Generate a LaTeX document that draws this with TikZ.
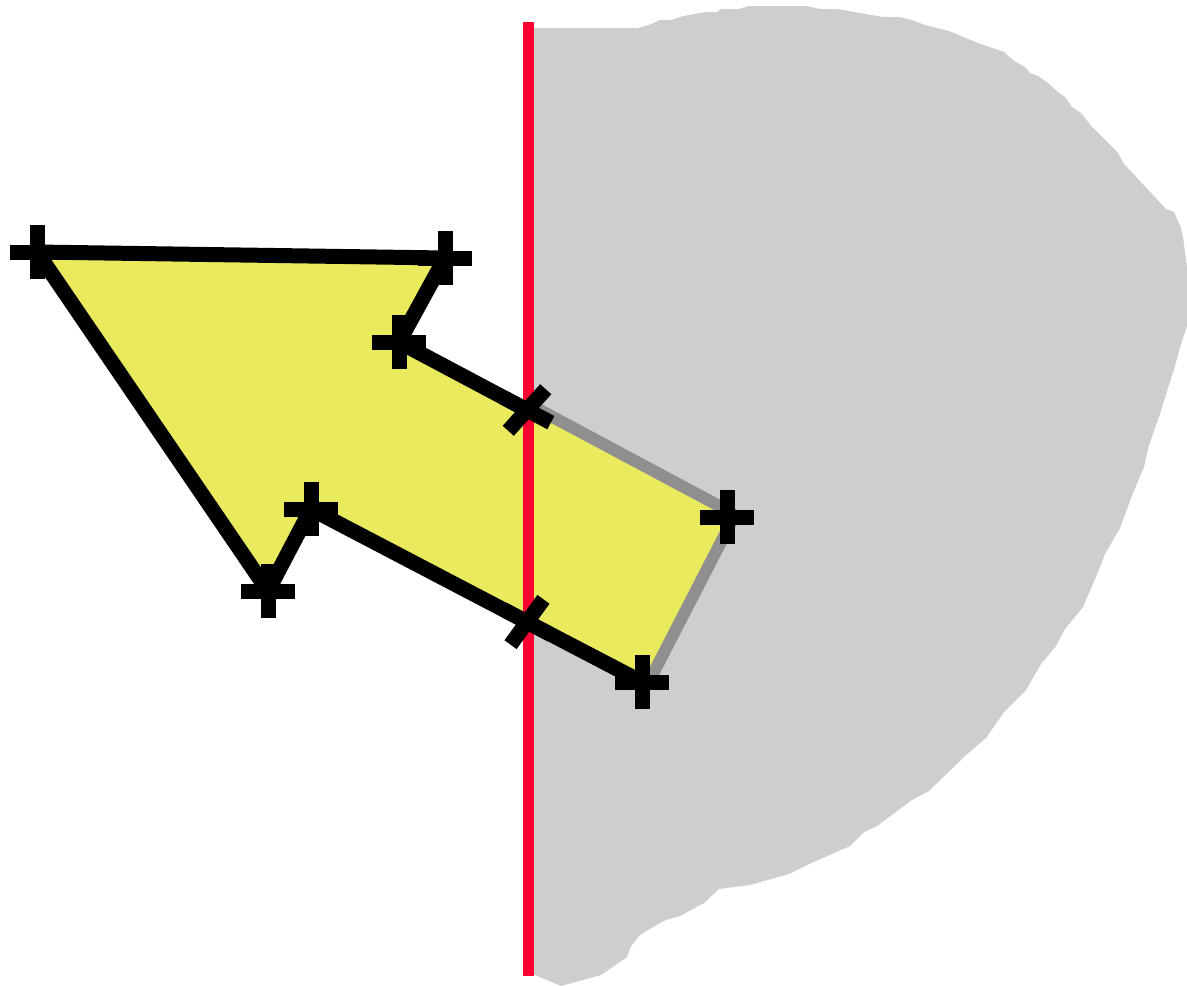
\documentclass[tikz,border=0pt]{standalone}
\usepackage{xcolor}
\usetikzlibrary{calc}
\definecolor{Sand}{HTML}{EAEA5E}
\definecolor{Fog}{HTML}{CECECE}
\definecolor{Ash}{HTML}{8F8F8F}
\definecolor{Signal}{HTML}{FF0030}

\begin{document}
\begin{tikzpicture}[x=1pt,y=-1pt,
    edge/.style={draw=black,line width=15pt,line cap=round,line join=round},
    hidden/.style={draw=Ash,line width=24pt,line join=round},
    crossbar/.style={draw=black,line width=15pt,line cap=butt}]
  \useasboundingbox (0,0) rectangle (1187,986);
  % clipped region
  \fill[Fog] (528,28) -- (638,28) -- (649,25) -- (660,20) -- (671,20) -- (680,17)
    -- (688,15) -- (706,12) -- (717,12) -- (721,9) -- (739,9) -- (748,6) -- (807,6)
    -- (820,9) -- (837,9) -- (883,17) -- (899,17) -- (912,20) -- (925,25) -- (949,31)
    -- (978,43) -- (1004,52) -- (1013,60) -- (1026,68) -- (1030,73) -- (1038,76)
    -- (1048,83) -- (1059,93) -- (1065,97) -- (1072,107) -- (1081,113) -- (1092,127)
    -- (1118,153) -- (1124,164) -- (1166,209) -- (1174,212) -- (1181,228) -- (1183,237)
    -- (1187,267) -- (1187,326) -- (1181,344) -- (1175,366) -- (1168,388) -- (1160,414)
    -- (1149,445) -- (1144,467) -- (1133,493) -- (1120,528) -- (1105,554) -- (1098,572)
    -- (1083,607) -- (1065,629) -- (1056,646) -- (1041,664) -- (1026,690) -- (1004,712)
    -- (986,738) -- (965,756) -- (929,791) -- (912,800) -- (877,826) -- (864,832)
    -- (850,846) -- (807,865) -- (789,874) -- (750,885) -- (719,889) -- (704,903)
    -- (680,916) -- (666,920) -- (653,927) -- (640,935) -- (631,946) -- (627,957)
    -- (614,966) -- (601,975) -- (579,981) -- (561,986) -- (535,975) -- (528,972) -- cycle;
  % polygon corners
  \coordinate (A) at (37,252);
  \coordinate (B) at (445,258);
  \coordinate (C) at (399,342);
  \coordinate (D) at (527,410);
  \coordinate (E) at (727,517);
  \coordinate (F) at (642,682);
  \coordinate (G) at (527,622);
  \coordinate (H) at (311,509);
  \coordinate (I) at (268,591);
  \draw[hidden] (D) -- (E) -- (F);
  \fill[Sand] (A) -- (B) -- (C) -- (E) -- (F) -- (H) -- (I) -- cycle;
  % clip line
  \coordinate (top) at (528,22);
  \coordinate (bot) at (528,976);
  \draw[Signal,line width=11pt] (top) -- (bot);
  \draw[edge] (D) -- (C) -- (B) -- (A) -- (I) -- (H) -- (G) -- (F);
  % vertex markers
  \foreach \p in {A,B,C,E,F,H,I}{
    \draw[crossbar] ([xshift=-27pt]\p) -- ([xshift=27pt]\p);
    \draw[crossbar] ([yshift=-27pt]\p) -- ([yshift=27pt]\p);
  }
  \foreach \p/\a in {D/-48,G/-54}{
    \draw[crossbar] ($(\p)+(28:27)$) -- ($(\p)+(208:27)$);
    \draw[crossbar] ($(\p)+(\a:28)$) -- ($(\p)+(\a+180:28)$);
  }
\end{tikzpicture}
\end{document}
